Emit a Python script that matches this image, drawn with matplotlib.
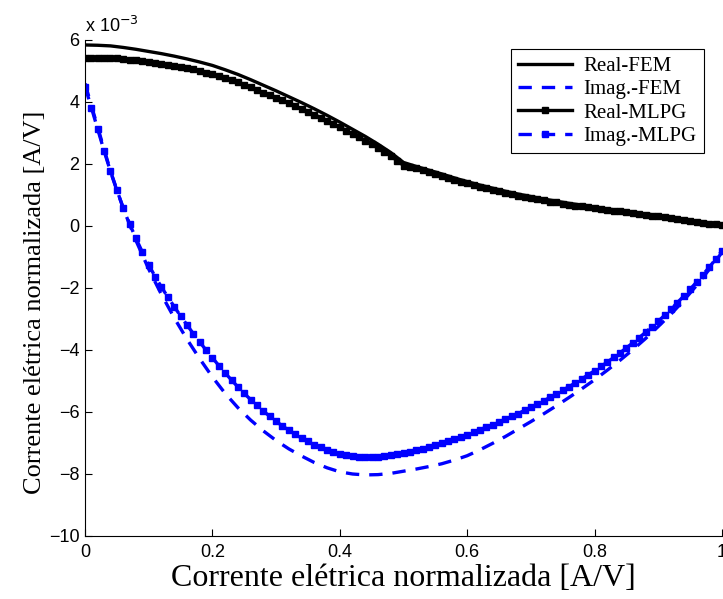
import matplotlib
matplotlib.use('Agg')
import matplotlib.pyplot as plt
import numpy as np

# eixo x das curvas FEM (passo 0.02) e MLPG (passo 0.01)
x_fem = np.linspace(0, 1, 51)
x_mlpg = np.linspace(0, 1, 101)

# valores em unidades de 10^-3
real_fem = [5.84, 5.83, 5.81, 5.76, 5.70, 5.63, 5.56, 5.48, 5.39, 5.29,
            5.18, 5.04, 4.89, 4.72, 4.54, 4.36, 4.17, 3.98, 3.78, 3.57,
            3.35, 3.12, 2.89, 2.64, 2.37, 2.05, 1.92, 1.80, 1.68, 1.55,
            1.43, 1.32, 1.22, 1.12, 1.03, 0.95, 0.87, 0.80, 0.73, 0.67,
            0.61, 0.55, 0.50, 0.44, 0.39, 0.34, 0.28, 0.22, 0.16, 0.10,
            0.03]

imag_fem = [4.60, 3.18, 1.77, 0.57, -0.47, -1.39, -2.21, -2.96, -3.65, -4.28,
            -4.87, -5.40, -5.86, -6.26, -6.61, -6.92, -7.19, -7.42, -7.63, -7.80,
            -7.93, -8.00, -8.03, -8.02, -7.98, -7.91, -7.84, -7.76, -7.67, -7.55,
            -7.41, -7.22, -7.01, -6.79, -6.55, -6.31, -6.06, -5.80, -5.53, -5.25,
            -4.96, -4.65, -4.33, -3.99, -3.63, -3.24, -2.84, -2.40, -1.92, -1.40,
            -0.85]

real_mlpg = [5.43, 5.43, 5.43, 5.43, 5.42, 5.41, 5.39, 5.36, 5.34, 5.32,
             5.28, 5.26, 5.22, 5.20, 5.17, 5.13, 5.09, 5.05, 5.00, 4.95,
             4.89, 4.83, 4.77, 4.70, 4.63, 4.56, 4.47, 4.39, 4.30, 4.22,
             4.14, 4.05, 3.96, 3.87, 3.78, 3.69, 3.59, 3.50, 3.40, 3.29,
             3.19, 3.08, 2.97, 2.87, 2.75, 2.64, 2.52, 2.39, 2.26, 2.11,
             1.95, 1.90, 1.86, 1.80, 1.74, 1.68, 1.62, 1.56, 1.49, 1.43,
             1.38, 1.32, 1.27, 1.22, 1.17, 1.12, 1.07, 1.03, 0.98, 0.94,
             0.90, 0.87, 0.83, 0.79, 0.76, 0.72, 0.69, 0.66, 0.63, 0.60,
             0.57, 0.55, 0.52, 0.49, 0.47, 0.44, 0.41, 0.38, 0.36, 0.33,
             0.31, 0.29, 0.26, 0.23, 0.20, 0.17, 0.14, 0.11, 0.08, 0.05,
             0.02]

imag_mlpg = [4.50, 3.82, 3.12, 2.42, 1.76, 1.15, 0.59, 0.07, -0.40, -0.84,
             -1.25, -1.63, -1.97, -2.29, -2.60, -2.90, -3.19, -3.47, -3.74, -4.00,
             -4.25, -4.50, -4.74, -4.97, -5.19, -5.40, -5.60, -5.79, -5.97, -6.14,
             -6.30, -6.45, -6.59, -6.72, -6.84, -6.95, -7.05, -7.14, -7.22, -7.29,
             -7.35, -7.39, -7.42, -7.44, -7.45, -7.45, -7.44, -7.42, -7.39, -7.36,
             -7.32, -7.28, -7.23, -7.18, -7.12, -7.06, -7.00, -6.94, -6.87, -6.80,
             -6.73, -6.65, -6.57, -6.49, -6.41, -6.32, -6.23, -6.14, -6.05, -5.95,
             -5.85, -5.75, -5.64, -5.53, -5.42, -5.30, -5.18, -5.06, -4.93, -4.80,
             -4.67, -4.53, -4.39, -4.24, -4.09, -3.93, -3.77, -3.60, -3.43, -3.25,
             -3.07, -2.88, -2.68, -2.47, -2.26, -2.04, -1.81, -1.57, -1.33, -1.07,
             -0.80]

xticks = [0, 0.2, 0.4, 0.6, 0.8, 1]
xtick_labels = ['0', '0.2', '0.4', '0.6', '0.8', '1']
yticks = [-10, -8, -6, -4, -2, 0, 2, 4, 6]
labels = ['Real-FEM', 'Imag.-FEM', 'Real-MLPG', 'Imag.-MLPG']
axis_label = 'Corrente elétrica normalizada [A/V]'

plt.rcParams['font.family'] = ['Liberation Sans', 'DejaVu Sans']

fig = plt.figure(figsize=(7.23, 5.99), dpi=100)
ax = fig.add_axes([85 / 723, 1 - 536 / 599, 637 / 723, 496 / 599])

ax.plot(x_fem, real_fem, color='k', lw=2.4, label=labels[0])
ax.plot(x_fem, imag_fem, color='b', lw=2.4, dashes=(4, 3), label=labels[1])
ax.plot(x_mlpg, real_mlpg, color='k', lw=2.4, marker='s', markersize=5,
        label=labels[2])
ax.plot(x_mlpg, imag_mlpg, color='b', lw=2.4, dashes=(4, 3), marker='s',
        markersize=5, label=labels[3])

ax.set_xlim(0, 1)
ax.set_ylim(-10, 6)
ax.set_xticks(xticks)
ax.set_xticklabels(xtick_labels)
ax.set_yticks(yticks)
ax.tick_params(direction='in', length=5, width=0.8, labelsize=13)
ax.tick_params(axis='x', pad=6)
ax.tick_params(axis='y', pad=4)
ax.spines['top'].set_visible(False)
ax.spines['right'].set_visible(False)
for s in ['left', 'bottom']:
    ax.spines[s].set_linewidth(0.8)

fig.text(85 / 723, 1 - 32 / 599, r'x 10$^{-3}$', fontsize=13, va='baseline')

ax.set_xlabel(axis_label, family='Liberation Serif', fontsize=23, labelpad=2)
ax.set_ylabel(axis_label, family='Liberation Serif', fontsize=19)
ax.yaxis.set_label_coords(-0.062, 0.472)

leg = ax.legend(loc='upper right', bbox_to_anchor=(704 / 723, 1 - 49 / 599),
                bbox_transform=fig.transFigure, borderaxespad=0,
                prop={'family': 'Liberation Serif', 'size': 15},
                fancybox=False, framealpha=1, edgecolor='k',
                handlelength=2.6, handletextpad=0.55, labelspacing=0.18,
                borderpad=0.35)
leg.get_frame().set_linewidth(0.8)

fig.savefig('out.png', dpi=100)
